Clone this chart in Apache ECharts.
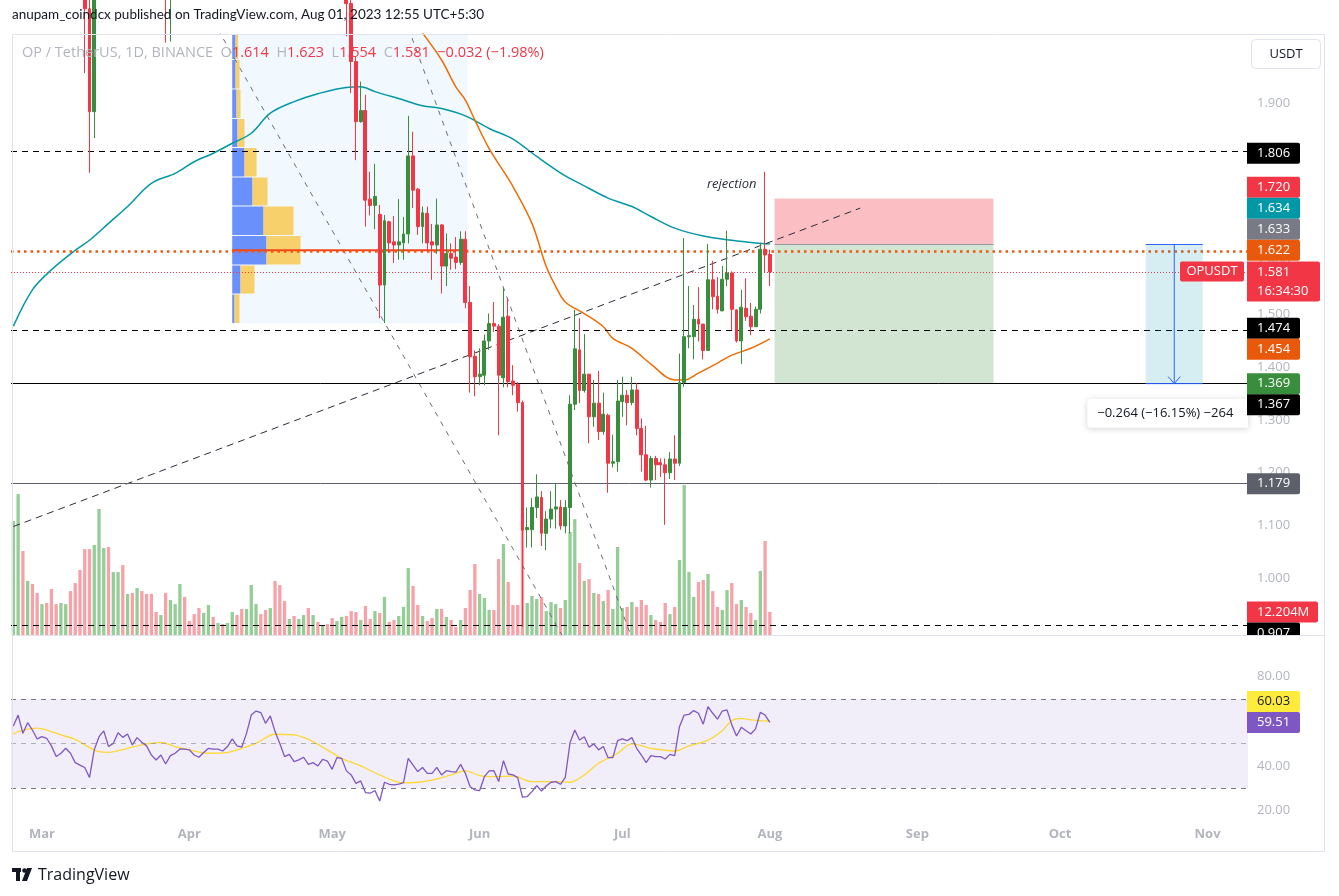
<!DOCTYPE html>
<html>
<head>
<meta charset="utf-8">
<title>OPUSDT 1D</title>
<script src="https://cdn.jsdelivr.net/npm/echarts@6.0.0/dist/echarts.min.js"></script>
<style>
html,body{margin:0;padding:0;background:#ffffff;}
#chart{width:1339px;height:896px;}
</style>
</head>
<body>
<div id="chart"></div>
<script>
// ===================== DATA =====================
const firstDay = [2023, 1, 23];            // 23 Feb 2023 (UTC, month 0-based)
const dayCount = 260;                      // categories incl. empty future days
const monthNames = ['Jan','Feb','Mar','Apr','May','Jun','Jul','Aug','Sep','Oct','Nov','Dec'];

const opens = [
2.85,2.97,3.05,2.82,2.90,2.80,2.72,2.78,2.62,2.55,
2.50,2.55,2.58,2.46,2.36,2.20,2.08,1.885,2.15,2.45,
2.62,2.52,2.64,2.76,2.66,2.72,2.60,2.66,2.58,2.48,
2.38,2.30,2.36,2.20,2.30,2.38,2.44,2.38,2.33,2.28,
2.24,2.30,2.35,2.30,2.36,2.31,2.37,2.46,2.40,2.35,
2.41,2.47,2.56,2.50,2.44,2.50,2.38,2.26,2.16,2.22,
2.17,2.23,2.28,2.22,2.26,2.20,2.24,2.17,2.12,2.15,
2.18,2.09,1.980,1.866,1.887,1.719,1.707,1.690,1.556,1.676,
1.638,1.632,1.636,1.653,1.801,1.738,1.667,1.692,1.638,1.632,
1.670,1.592,1.616,1.609,1.599,1.643,1.523,1.421,1.382,1.385,
1.450,1.483,1.478,1.380,1.497,1.374,1.368,1.333,1.092,1.092,
1.134,1.153,1.085,1.112,1.131,1.135,1.099,1.134,1.330,1.433,
1.356,1.387,1.306,1.332,1.278,1.309,1.218,1.221,1.335,1.347,
1.333,1.357,1.284,1.234,1.186,1.227,1.219,1.215,1.200,1.226,
1.218,1.371,1.458,1.458,1.491,1.482,1.432,1.566,1.535,1.507,
1.567,1.579,1.509,1.450,1.512,1.497,1.477,1.510,1.624,1.614];
const closes = [
2.97,3.05,2.82,2.90,2.80,2.72,2.78,2.62,2.55,2.50,
2.55,2.58,2.46,2.36,2.20,2.08,1.885,2.15,2.45,2.62,
2.52,2.64,2.76,2.66,2.72,2.60,2.66,2.58,2.48,2.38,
2.30,2.36,2.20,2.30,2.38,2.44,2.38,2.33,2.28,2.24,
2.30,2.35,2.30,2.36,2.31,2.37,2.46,2.40,2.35,2.41,
2.47,2.56,2.50,2.44,2.50,2.38,2.26,2.16,2.22,2.17,
2.23,2.28,2.22,2.26,2.20,2.24,2.17,2.12,2.15,2.18,
2.09,1.980,1.866,1.887,1.717,1.707,1.724,1.556,1.678,1.636,
1.632,1.638,1.653,1.801,1.736,1.667,1.693,1.636,1.632,1.670,
1.592,1.616,1.607,1.599,1.643,1.523,1.420,1.382,1.387,1.450,
1.483,1.478,1.385,1.495,1.373,1.366,1.333,1.091,1.096,1.134,
1.154,1.085,1.112,1.131,1.135,1.099,1.134,1.330,1.435,1.356,
1.387,1.306,1.332,1.278,1.311,1.218,1.221,1.336,1.347,1.333,
1.357,1.284,1.234,1.186,1.227,1.215,1.215,1.200,1.226,1.218,
1.371,1.458,1.460,1.491,1.482,1.432,1.566,1.534,1.510,1.567,
1.579,1.510,1.450,1.514,1.496,1.477,1.510,1.624,1.613,1.581];
const lows = [
2.78,2.88,2.75,2.76,2.74,2.66,2.68,2.58,2.50,2.45,
2.46,2.50,2.42,2.30,2.15,1.958,1.769,1.835,2.10,2.40,
2.45,2.48,2.60,2.60,2.62,2.56,2.56,2.52,2.42,2.32,
2.22,2.24,2.016,2.018,2.26,2.34,2.34,2.29,2.24,2.20,
2.21,2.27,2.27,2.28,2.28,2.29,2.34,2.36,2.31,2.32,
2.38,2.44,2.46,2.40,2.41,2.34,2.20,2.10,2.12,2.13,
2.14,2.20,2.19,2.19,2.16,2.17,2.13,2.08,2.09,2.11,
2.028,1.920,1.793,1.864,1.667,1.688,1.662,1.493,1.484,1.617,
1.598,1.604,1.604,1.635,1.702,1.651,1.635,1.621,1.566,1.615,
1.540,1.554,1.585,1.586,1.594,1.512,1.352,1.345,1.366,1.366,
1.433,1.467,1.271,1.362,1.362,1.347,1.316,0.907,1.058,1.058,
1.114,1.061,1.053,1.095,1.094,1.092,1.085,1.085,1.319,1.332,
1.352,1.256,1.287,1.262,1.272,1.162,1.210,1.202,1.306,1.290,
1.328,1.271,1.202,1.184,1.172,1.186,1.192,1.101,1.188,1.186,
1.213,1.363,1.436,1.415,1.449,1.415,1.432,1.510,1.502,1.507,
1.554,1.471,1.447,1.406,1.488,1.461,1.477,1.502,1.579,1.554];
const highs = [
3.05,3.18,3.08,2.95,2.94,2.85,2.84,2.80,2.66,2.58,
2.60,2.62,2.60,2.48,2.38,2.22,2.10,2.20,2.50,2.70,
2.66,2.70,2.82,2.80,2.76,2.74,2.70,2.68,2.60,2.50,
2.40,2.40,2.38,2.33,2.42,2.48,2.46,2.40,2.35,2.30,
2.33,2.38,2.37,2.39,2.38,2.40,2.50,2.48,2.42,2.44,
2.50,2.62,2.58,2.52,2.53,2.52,2.40,2.28,2.25,2.24,
2.26,2.31,2.30,2.29,2.28,2.27,2.25,2.19,2.18,2.20,
2.20,2.12,1.990,1.942,1.917,1.771,1.786,1.708,1.689,1.678,
1.687,1.719,1.685,1.877,1.847,1.740,1.705,1.705,1.672,1.720,
1.672,1.654,1.635,1.647,1.658,1.658,1.554,1.432,1.436,1.462,
1.502,1.524,1.482,1.550,1.531,1.404,1.372,1.337,1.134,1.152,
1.197,1.165,1.127,1.165,1.180,1.148,1.148,1.347,1.509,1.493,
1.463,1.387,1.376,1.393,1.352,1.312,1.272,1.376,1.382,1.357,
1.382,1.370,1.303,1.289,1.232,1.232,1.227,1.227,1.239,1.271,
1.426,1.645,1.554,1.518,1.552,1.482,1.634,1.602,1.571,1.592,
1.659,1.582,1.509,1.547,1.569,1.522,1.515,1.636,1.771,1.623];
// volume, millions of OP
const volumes = [
60.5,74.8,44.6,28.7,27.1,22.3,16.4,17.0,24.4,16.4,
17.0,16.4,23.3,27.6,34.5,45.6,45.6,47.8,66.9,46.2,
46.7,33.4,33.4,37.1,21.8,22.3,24.9,23.3,21.8,21.8,
12.2,10.6,22.3,18.6,16.4,27.1,20.2,7.4,11.1,14.3,
11.7,15.9,9.6,6.4,5.8,6.4,12.2,10.6,13.8,13.8,
26.5,16.4,11.1,13.3,14.3,28.7,26.5,18.0,8.5,10.1,
8.5,10.6,14.3,10.6,6.9,5.3,5.8,9.0,7.4,9.6,
10.1,12.7,12.2,8.0,15.4,8.5,12.7,11.7,20.2,6.9,
8.0,10.1,14.9,35.5,26.0,15.9,10.1,7.4,9.0,13.8,
13.8,9.6,8.0,4.2,8.0,14.3,23.9,37.7,21.8,19.6,
13.3,13.3,40.3,48.3,28.1,15.9,15.9,64.0,17.0,20.7,
19.1,20.2,12.7,17.5,16.4,14.3,18.6,54.7,61.5,38.2,
28.7,29.7,22.3,21.8,18.0,23.9,13.8,46.7,14.3,14.9,
17.5,14.9,18.6,15.9,10.6,8.0,6.9,17.0,11.1,14.9,
39.8,79.6,33.4,20.2,28.1,29.2,32.4,23.3,14.9,13.3,
23.9,27.6,16.4,18.6,14.9,11.7,8.0,34.0,49.9,12.204];
const rsiValues = [
57.9,62.8,54.6,59.4,56.1,52.1,53.1,52.4,49.0,44.2,
45.7,47.9,45.7,41.5,40.4,39.3,34.8,47.2,53.1,55.7,
48.7,50.1,54.9,52.8,54.3,49.4,52.7,50.6,49.0,44.9,
42.7,44.9,40.9,44.6,45.7,47.6,47.5,47.2,44.9,43.9,
46.0,47.9,47.5,47.5,46.7,48.7,52.1,49.0,48.4,54.6,
62.8,64.6,63.9,59.1,62.4,55.4,50.1,44.2,45.2,41.9,
42.7,43.9,40.7,41.5,40.0,43.0,42.2,38.5,43.7,43.4,
37.8,36.0,32.2,33.3,28.1,27.8,29.0,24.3,32.7,31.8,
31.5,31.9,32.5,43.4,40.4,37.5,39.3,36.7,36.7,39.4,
36.0,37.9,37.5,37.2,40.7,36.7,30.7,29.3,29.0,35.2,
37.8,37.9,33.0,42.4,36.4,36.0,34.8,26.0,26.3,28.5,
31.2,28.8,31.0,32.7,33.0,31.8,34.9,50.4,56.1,51.6,
53.1,48.4,49.9,47.2,48.7,43.7,43.7,51.3,52.1,51.3,
52.7,47.9,44.9,41.5,44.6,44.2,44.2,43.1,45.2,44.6,
57.6,62.8,63.1,64.8,63.6,58.7,66.6,63.6,61.0,64.6,
65.1,58.4,53.4,57.3,55.8,54.3,56.6,64.0,62.8,59.51];
// [day index, value]
const rsiMaPoints = [[0,54.2],[1,55.4],[5,56.9],[7,56.1],[10,53.9],[13,51.9],[18,46.4],[20,46.1],[24,47.9],[27,49.4],[31,50.6],[34,48.7],[37,47.2],[41,45.7],[45,46.1],[48,47.9],[51,50.1],[55,54.2],[59,53.9],[62,51.9],[66,47.2],[69,43.4],[73,40.0],[77,36.0],[82,32.4],[85,32.7],[88,33.7],[92,36.0],[95,37.8],[98,35.7],[101,35.2],[105,35.5],[109,33.0],[114,33.0],[117,32.7],[120,36.0],[123,41.2],[127,45.7],[130,49.9],[134,47.9],[139,46.7],[142,49.0],[146,51.6],[149,55.8],[151,60.3],[153,61.3],[155,60.6],[159,60.03]];
const ma200Points = [[0,1.478],[4,1.547],[8,1.585],[13,1.622],[16,1.641],[20,1.673],[24,1.705],[29,1.749],[34,1.768],[38,1.790],[42,1.806],[46,1.825],[50,1.844],[54,1.882],[59,1.904],[64,1.919],[70,1.931],[73,1.932],[76,1.923],[82,1.907],[86,1.896],[90,1.891],[95,1.877],[100,1.853],[105,1.833],[110,1.800],[116,1.763],[119,1.749],[125,1.721],[130,1.705],[134,1.686],[139,1.664],[145,1.649],[151,1.641],[156,1.636],[159,1.634]];
const ma50Points = [[86,2.034],[90,1.983],[93,1.932],[95,1.907],[97,1.869],[100,1.815],[105,1.743],[109,1.673],[112,1.591],[114,1.553],[116,1.524],[120,1.502],[124,1.477],[126,1.455],[130,1.436],[134,1.406],[139,1.376],[141,1.376],[144,1.389],[148,1.408],[151,1.423],[155,1.436],[159,1.454]];
// visible-range volume profile (10 Apr - 29 May)
const vpRange = ['2023-04-10', '2023-05-29'];
const vpEdges = [1.483,1.539,1.594,1.650,1.706,1.761,1.817,1.872,1.928,1.984,2.039];
const vpUp   = [2.3, 8.3, 34.3, 31.3, 20.3, 12.3, 5.3, 4.3, 3.3, 3.3];
const vpDown = [5.0, 14.0, 34.0, 30.0, 15.0, 12.0, 7.0, 4.0, 4.0, 2.7];
// drawings
const dashedLevels = [1.806, 1.474, 0.907];
const supportLevel = 1.367;
const lowerLevel = 1.179;
const keyLevel = 1.622;
const trendLines = [
  [['2023-04-07', 2.041], ['2023-06-19', 0.881]],
  [['2023-05-17', 2.044], ['2023-07-03', 0.886]],
  [['2023-02-23', 1.098], ['2023-08-20', 1.702]]
];
const shortPosition = {from: '2023-08-02', to: '2023-09-17', entry: 1.633, stop: 1.720, target: 1.369};
const measure = {from: '2023-10-19', mid: '2023-10-25', to: '2023-10-31', start: 1.633, end: 1.369};
const measureText = '\u22120.264 (\u221216.15%) \u2212264';
const noteText = 'rejection';
const noteAnchor = ['2023-07-24', 1.748];
const ma200Last = 1.634, ma50Last = 1.454, rsiMaLast = 60.03;
const headerText = 'anupam_coindcx published on TradingView.com, Aug 01, 2023 12:55 UTC+5:30';
const symbolText = 'OP / TetherUS, 1D, BINANCE';
const countdownText = '16:34:30';
const priceTicks = [1.0, 1.1, 1.2, 1.3, 1.4, 1.5, 1.6, 1.7, 1.8, 1.9];
const rsiTicks = [20, 40, 60, 80];

// ===================== LAYOUT / STYLE =====================
const FONT = "'Open Sans', 'Noto Sans', sans-serif";
const HEAD_FONT = "Lato, 'Open Sans', sans-serif";
const UP = '#388e3c', DOWN = '#f23645';
const VOL_UP = '#94cd95', VOL_DOWN = '#f7a1a8';
const PRICE_MIN = 0.8921, PRICE_MAX = 2.0323;
const VOL_MAX = 319;
const RSI_MIN = 15.8, RSI_MAX = 98.2;

const dates = [];
for (let i = 0; i < dayCount; i++) {
  const d = new Date(Date.UTC(firstDay[0], firstDay[1], firstDay[2] + i));
  dates.push(d.toISOString().slice(0, 10));
}
const idx = (d) => dates.indexOf(d);

const chart = echarts.init(document.getElementById('chart'), null, {renderer: 'canvas'});

const candleData = opens.map((o, i) => [o, closes[i], lows[i], highs[i]]);
const volumeData = volumes.map((v, i) => ({value: v, itemStyle: {color: closes[i] >= opens[i] ? VOL_UP : VOL_DOWN}}));
const vpStartIdx = idx(vpRange[0]), vpEndIdx = idx(vpRange[1]);
const vpMaxTotal = Math.max(...vpUp.map((u, k) => u + vpDown[k]));
let pocRow = 0;
vpUp.forEach((u, k) => { if (u + vpDown[k] === vpMaxTotal) pocRow = k; });

function vpBounds(api) {
  const band = api.size([1, 0])[0];
  const x0 = api.coord([vpStartIdx, vpEdges[0]])[0];
  const x1 = api.coord([vpEndIdx, vpEdges[0]])[0] + band / 2;
  return {x0, x1};
}

const option = {
  animation: false,
  backgroundColor: '#ffffff',
  textStyle: {fontFamily: FONT},
  grid: [
    {left: 11, top: 34, width: 1237, height: 601, outerBoundsMode: 'none', containLabel: false},
    {left: 11, top: 636, width: 1237, height: 184, outerBoundsMode: 'none', containLabel: false}
  ],
  xAxis: [
    {type: 'category', gridIndex: 0, data: dates, boundaryGap: true,
     axisLine: {show: false}, axisTick: {show: false}, axisLabel: {show: false}, splitLine: {show: false}},
    {type: 'category', gridIndex: 1, data: dates, boundaryGap: true,
     axisLine: {show: false}, axisTick: {show: false}, splitLine: {show: false},
     axisLabel: {show: true, interval: (i, v) => v.slice(8) === '01',
       formatter: (v) => monthNames[+v.slice(5, 7) - 1],
       color: '#b2b5be', fontSize: 13, fontWeight: 'bold', fontFamily: FONT, margin: 8}}
  ],
  yAxis: [
    {type: 'value', gridIndex: 0, position: 'right', min: PRICE_MIN, max: PRICE_MAX, scale: true,
     splitLine: {show: false}, axisLine: {show: false}, axisTick: {show: false},
     axisLabel: {customValues: priceTicks, formatter: (v) => v.toFixed(3), color: '#b2b5be', fontSize: 13, fontFamily: FONT, margin: 9}},
    {type: 'value', gridIndex: 0, min: 0, max: VOL_MAX, show: false},
    {type: 'value', gridIndex: 1, position: 'right', min: RSI_MIN, max: RSI_MAX, scale: true,
     splitLine: {show: false}, axisLine: {show: false}, axisTick: {show: false},
     axisLabel: {customValues: rsiTicks, formatter: (v) => v.toFixed(2), color: '#b2b5be', fontSize: 13, fontFamily: FONT, margin: 9}}
  ],
  series: [
    {name: 'Volume', type: 'bar', xAxisIndex: 0, yAxisIndex: 1, data: volumeData, barWidth: 3.3, z: 1, silent: true},
    {name: 'VP range', type: 'custom', xAxisIndex: 0, yAxisIndex: 0, z: 1, silent: true, data: [[0]],
     renderItem: (params, api) => {
       const b = vpBounds(api);
       const cs = params.coordSys;
       const yLow = api.coord([vpStartIdx, vpEdges[0]])[1];
       return {type: 'rect', shape: {x: b.x0, y: cs.y, width: b.x1 - b.x0, height: yLow - cs.y},
               style: {fill: 'rgba(33,150,243,0.06)'}};
     }},
    {name: 'VP rows', type: 'custom', xAxisIndex: 0, yAxisIndex: 0, z: 2, silent: true,
     data: vpUp.map((u, k) => [k]),
     renderItem: (params, api) => {
       const r = api.value(0);
       const b = vpBounds(api);
       const cs = params.coordSys;
       const yLow = api.coord([vpStartIdx, vpEdges[r]])[1];
       const yHigh = Math.max(api.coord([vpStartIdx, vpEdges[r + 1]])[1], cs.y);
       const unit = (b.x1 - b.x0) * 0.29 / vpMaxTotal;
       const wu = vpUp[r] * unit, wd = vpDown[r] * unit;
       const y = yHigh + 0.5, h = Math.max(0, yLow - yHigh - 1);
       const kids = [
         {type: 'rect', shape: {x: b.x0, y, width: wu, height: h}, style: {fill: '#6990fb'}},
         {type: 'rect', shape: {x: b.x0 + wu, y, width: wd, height: h}, style: {fill: '#f7d06c'}}
       ];
       if (r === pocRow) {
         const yp = api.coord([vpStartIdx, (vpEdges[r] + vpEdges[r + 1]) / 2])[1];
         kids.push({type: 'line', z2: 10, shape: {x1: b.x0, y1: yp, x2: b.x1, y2: yp}, style: {stroke: '#f0441c', lineWidth: 2}});
       }
       return {type: 'group', children: kids};
     }},
    {name: 'MA200', type: 'line', xAxisIndex: 0, yAxisIndex: 0, data: ma200Points, smooth: 0.35, showSymbol: false,
     z: 3, silent: true, lineStyle: {color: '#0097a7', width: 1.5},
     markLine: {silent: true, symbol: ['none', 'none'], label: {show: false}, animation: false,
       data: [
         ...dashedLevels.map((v) => ({yAxis: v, lineStyle: {color: '#000000', width: 1, type: [6, 5]}})),
         {yAxis: supportLevel, lineStyle: {color: '#000000', width: 1, type: 'solid'}},
         {yAxis: lowerLevel, lineStyle: {color: '#5d606b', width: 1, type: 'solid'}},
         {yAxis: keyLevel, lineStyle: {color: '#f0590d', width: 2.5, type: [2.5, 4]}},
         {yAxis: closes[closes.length - 1], lineStyle: {color: DOWN, width: 1, type: [1, 2]}},
         [{coord: [idx(shortPosition.from), shortPosition.entry], lineStyle: {color: '#9598a1', width: 1, type: 'solid'}},
          {coord: [idx(shortPosition.to), shortPosition.entry]}]
       ]},
     markArea: {silent: true, label: {show: false},
       data: [
         [{xAxis: idx(shortPosition.from), yAxis: shortPosition.stop, itemStyle: {color: 'rgba(242,54,69,0.32)'}},
          {xAxis: idx(shortPosition.to), yAxis: shortPosition.entry}],
         [{xAxis: idx(shortPosition.from), yAxis: shortPosition.entry, itemStyle: {color: 'rgba(56,142,60,0.23)'}},
          {xAxis: idx(shortPosition.to), yAxis: shortPosition.target}]
       ]}},
    {name: 'MA50', type: 'line', xAxisIndex: 0, yAxisIndex: 0, data: ma50Points, smooth: 0.35, showSymbol: false,
     z: 3, silent: true, lineStyle: {color: '#ef6c00', width: 1.5}},
    ...trendLines.map((seg, k) => ({
      name: 'Trend ' + k, type: 'line', xAxisIndex: 0, yAxisIndex: 0, data: seg, showSymbol: false, silent: true, z: 4, clip: true,
      lineStyle: k === 2 ? {color: '#2a2e39', width: 1, type: [7, 5]} : {color: '#6a6d78', width: 1, type: [5, 6]}
    })),
    {name: 'OPUSDT', type: 'candlestick', xAxisIndex: 0, yAxisIndex: 0, data: candleData, barWidth: 3.4, z: 5, clip: true, silent: true,
     itemStyle: {color: UP, color0: DOWN, borderColor: UP, borderColor0: DOWN, borderWidth: 1}},
    {name: 'Annotations', type: 'custom', xAxisIndex: 0, yAxisIndex: 0, z: 6, silent: true, data: [[0]],
     renderItem: (params, api) => {
       const a = api.coord([idx(measure.from), measure.start]);
       const b = api.coord([idx(measure.to), measure.end]);
       const m = api.coord([idx(measure.mid), measure.end]);
       const n = api.coord([idx(noteAnchor[0]), noteAnchor[1]]);
       const cs = params.coordSys;
       const blue = '#2962ff';
       const boxL = m[0] - 87, boxT = b[1] + 15;
       return {type: 'group', children: [
         {type: 'rect', shape: {x: a[0], y: a[1], width: b[0] - a[0], height: b[1] - a[1]}, style: {fill: 'rgba(0,151,167,0.16)'}},
         {type: 'line', shape: {x1: a[0], y1: a[1], x2: b[0], y2: a[1]}, style: {stroke: blue, lineWidth: 1}},
         {type: 'line', shape: {x1: a[0], y1: b[1], x2: b[0], y2: b[1]}, style: {stroke: blue, lineWidth: 1}},
         {type: 'line', shape: {x1: m[0], y1: a[1], x2: m[0], y2: b[1]}, style: {stroke: blue, lineWidth: 1}},
         {type: 'polyline', shape: {points: [[m[0] - 6, b[1] - 7], [m[0], b[1]], [m[0] + 6, b[1] - 7]]}, style: {stroke: blue, lineWidth: 1, fill: null}},
         {type: 'rect', shape: {x: boxL, y: boxT, width: cs.x + cs.width - boxL, height: 29, r: [4, 0, 0, 4]},
          style: {fill: '#ffffff', shadowBlur: 6, shadowColor: 'rgba(0,0,0,0.18)', shadowOffsetY: 1}},
         {type: 'text', style: {text: measureText, x: boxL + 10, y: boxT + 14.5, fill: '#131722', fontSize: 13, fontFamily: FONT, verticalAlign: 'middle', align: 'left'}},
         {type: 'text', style: {text: noteText, x: n[0], y: n[1], fill: '#2a2e39', fontSize: 13, fontStyle: 'italic', fontFamily: FONT, verticalAlign: 'middle', align: 'center'}}
       ]};
     }},
    {name: 'RSI', type: 'line', xAxisIndex: 1, yAxisIndex: 2, data: rsiValues, showSymbol: false, silent: true, z: 4,
     lineStyle: {color: '#7e57c2', width: 1.3},
     markArea: {silent: true, label: {show: false}, data: [[{yAxis: 30, itemStyle: {color: 'rgba(126,87,194,0.1)'}}, {yAxis: 70}]]},
     markLine: {silent: true, symbol: ['none', 'none'], label: {show: false},
       data: [
         {yAxis: 70, lineStyle: {color: '#787b86', width: 1, type: [5, 5]}},
         {yAxis: 50, lineStyle: {color: 'rgba(120,123,134,0.55)', width: 1, type: [5, 5]}},
         {yAxis: 30, lineStyle: {color: '#787b86', width: 1, type: [5, 5]}}
       ]}},
    {name: 'RSI MA', type: 'line', xAxisIndex: 1, yAxisIndex: 2, data: rsiMaPoints, smooth: 0.35, showSymbol: false, silent: true, z: 3,
     lineStyle: {color: '#fdd835', width: 1.3}}
  ]
};
chart.setOption(option);

// ===================== OVERLAY TEXT (header, legend, price-scale tags) =====================
function buildOverlay() {
  const els = [];
  const Z = 100;
  const toY = (v, axis) => chart.convertToPixel({yAxisIndex: axis}, v);
  const TAG_X = 1247, TAG_W = 53, TAG_H = 21;
  const addTag = (yc, text, bg, fg, w) => {
    els.push({type: 'rect', z: Z, shape: {x: TAG_X, y: yc - TAG_H / 2, width: w || TAG_W, height: TAG_H, r: [0, 2, 2, 0]}, style: {fill: bg}});
    els.push({type: 'text', z: Z + 1, x: TAG_X + 10, y: yc, style: {text, fill: fg, fontSize: 13, fontFamily: FONT, verticalAlign: 'middle', align: 'left'}});
  };
  const f3 = (v) => v.toFixed(3);
  // main pane tags, stacked around the last-price tag
  const last = closes[closes.length - 1];
  const ay = toY(last, 0);
  const aTop = ay - 10.5, aBot = aTop + 40;
  const tags = [
    {y: toY(dashedLevels[0], 0), t: f3(dashedLevels[0]), bg: '#000000', fg: '#ffffff'},
    {y: toY(shortPosition.stop, 0), t: f3(shortPosition.stop), bg: DOWN, fg: '#ffffff'},
    {y: toY(ma200Last, 0), t: f3(ma200Last), bg: '#0097a7', fg: '#ffffff'},
    {y: toY(shortPosition.entry, 0), t: f3(shortPosition.entry), bg: '#787b86', fg: '#ffffff'},
    {y: toY(keyLevel, 0), t: f3(keyLevel), bg: '#e8590c', fg: '#ffffff'},
    {y: toY(dashedLevels[1], 0), t: f3(dashedLevels[1]), bg: '#000000', fg: '#ffffff'},
    {y: toY(ma50Last, 0), t: f3(ma50Last), bg: '#e8590c', fg: '#ffffff'},
    {y: toY(shortPosition.target, 0), t: f3(shortPosition.target), bg: UP, fg: '#ffffff'},
    {y: toY(supportLevel, 0), t: f3(supportLevel), bg: '#000000', fg: '#ffffff'},
    {y: toY(lowerLevel, 0), t: f3(lowerLevel), bg: '#5d606b', fg: '#ffffff'},
    {y: toY(volumes[volumes.length - 1], 1), t: volumes[volumes.length - 1].toFixed(3) + 'M', bg: DOWN, fg: '#ffffff', w: 71},
    {y: toY(dashedLevels[2], 0), t: f3(dashedLevels[2]), bg: '#000000', fg: '#ffffff'}
  ];
  const above = tags.filter((t) => t.y < ay).sort((p, q) => q.y - p.y);
  let lim = aTop;
  above.forEach((t) => { t.c = Math.min(t.y, lim - TAG_H / 2); lim = t.c - TAG_H / 2; });
  const below = tags.filter((t) => t.y >= ay).sort((p, q) => p.y - q.y);
  lim = aBot;
  below.forEach((t) => { t.c = Math.max(t.y, lim + TAG_H / 2); lim = t.c + TAG_H / 2; });
  tags.forEach((t) => addTag(t.c, t.t, t.bg, t.fg, t.w));
  // last price tag with countdown
  els.push({type: 'rect', z: Z, shape: {x: TAG_X, y: aTop, width: 73, height: 40, r: [0, 2, 2, 0]}, style: {fill: DOWN}});
  els.push({type: 'text', z: Z + 1, x: TAG_X + 10, y: aTop + 10.5, style: {text: f3(last), fill: '#ffffff', fontSize: 13, fontFamily: FONT, verticalAlign: 'middle'}});
  els.push({type: 'text', z: Z + 1, x: TAG_X + 10, y: aTop + 29.5, style: {text: countdownText, fill: '#ffffff', fontSize: 13, fontFamily: FONT, verticalAlign: 'middle'}});
  els.push({type: 'rect', z: Z, shape: {x: 1180, y: aTop, width: 64, height: 20, r: 2}, style: {fill: DOWN}});
  els.push({type: 'text', z: Z + 1, x: 1212, y: aTop + 10, style: {text: 'OPUSDT', fill: '#ffffff', fontSize: 13, fontFamily: FONT, align: 'center', verticalAlign: 'middle'}});
  // mask tags spilling into RSI pane
  els.push({type: 'rect', z: Z + 2, shape: {x: 1246, y: 636, width: 79, height: 16}, style: {fill: '#ffffff'}});
  // RSI pane tags
  const ry = toY(rsiValues[rsiValues.length - 1], 2);
  const my = Math.min(toY(rsiMaLast, 2), ry - TAG_H);
  addTag(my, rsiMaLast.toFixed(2), '#ffeb3b', '#131722');
  addTag(ry, rsiValues[rsiValues.length - 1].toFixed(2), '#7e57c2', '#ffffff');
  // frame
  els.push({type: 'rect', z: Z + 3, shape: {x: 12.5, y: 34.5, width: 1312, height: 817}, style: {fill: null, stroke: '#e0e3eb', lineWidth: 1}});
  els.push({type: 'line', z: Z + 3, shape: {x1: 12, y1: 635.5, x2: 1325, y2: 635.5}, style: {stroke: '#e0e3eb', lineWidth: 1}});
  // currency button
  els.push({type: 'rect', z: Z + 3, shape: {x: 1251.5, y: 39.5, width: 69, height: 29, r: 4}, style: {fill: '#ffffff', stroke: '#e0e3eb'}});
  els.push({type: 'text', z: Z + 4, x: 1286, y: 54, style: {text: 'USDT', fill: '#131722', fontSize: 13, fontFamily: FONT, align: 'center', verticalAlign: 'middle'}});
  // header
  els.push({type: 'text', z: Z, x: 12, y: 15, style: {text: headerText, fill: '#131722', fontSize: 13.5, fontFamily: HEAD_FONT, verticalAlign: 'middle'}});
  // legend line
  const lastOpen = opens[opens.length - 1], lastHigh = highs[highs.length - 1], lastLow = lows[lows.length - 1];
  const prev = closes[closes.length - 2];
  const chg = last - prev;
  const pct = chg / prev * 100;
  const sgn = (v, d) => (v < 0 ? '\u2212' : '+') + Math.abs(v).toFixed(d);
  els.push({type: 'text', z: Z, x: 22, y: 53, style: {
    text: '{g|' + symbolText + '  O}{r|' + f3(lastOpen) + '}{g|  H}{r|' + f3(lastHigh) + '}{g|  L}{r|' + f3(lastLow) + '}{g|  C}{r|' + f3(last) + '  ' + sgn(chg, 3) + ' (' + sgn(pct, 2) + '%)}',
    verticalAlign: 'middle',
    rich: {g: {fill: '#b2b5be', fontSize: 14.5, fontFamily: FONT}, r: {fill: DOWN, fontSize: 14.5, fontFamily: FONT}}}});
  // footer logo + name
  els.push({type: 'rect', z: Z, shape: {x: 12, y: 868, width: 9, height: 4}, style: {fill: '#131722'}});
  els.push({type: 'rect', z: Z, shape: {x: 16, y: 868, width: 4, height: 13}, style: {fill: '#131722'}});
  els.push({type: 'circle', z: Z, shape: {cx: 24.5, cy: 870.5, r: 2.3}, style: {fill: '#131722'}});
  els.push({type: 'polygon', z: Z, shape: {points: [[27, 868], [32, 868], [27, 881], [22, 881]]}, style: {fill: '#131722'}});
  els.push({type: 'text', z: Z, x: 38, y: 875, style: {text: 'TradingView', fill: '#131722', fontSize: 16, fontFamily: FONT, verticalAlign: 'middle'}});
  return els;
}
chart.setOption({graphic: {elements: buildOverlay()}});
</script>
</body>
</html>
